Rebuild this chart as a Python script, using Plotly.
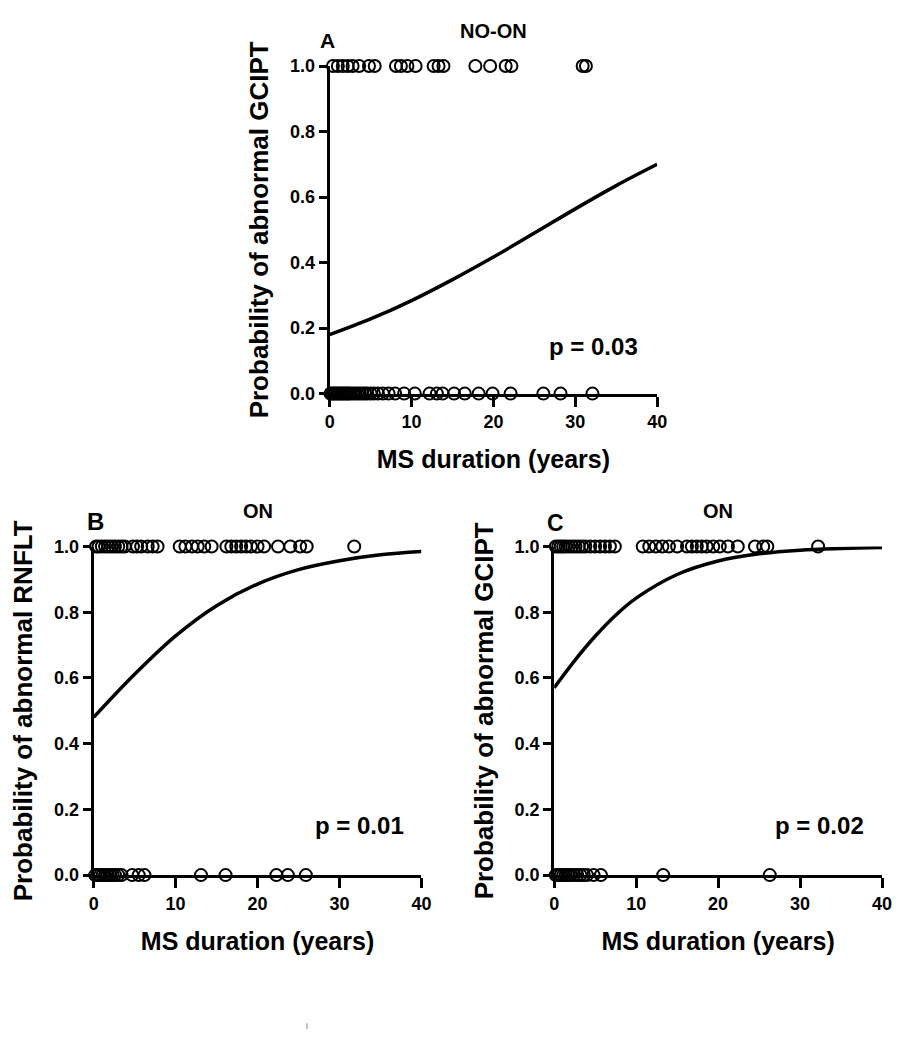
import plotly.graph_objects as go

# ---- data ----
a_abn = [0.4, 1.0, 1.6, 2.2, 2.8, 3.6, 4.8, 5.5, 8.1, 8.7, 9.5, 10.5, 12.7, 13.3, 13.9,
         17.8, 19.6, 21.5, 22.2, 30.9, 31.3]
a_norm = [0.1, 0.3, 0.5, 0.7, 0.9, 1.1, 1.3, 1.5, 1.7, 1.9, 2.1, 2.3, 2.5, 2.8, 3.1, 3.4,
          3.7, 4.0, 4.3, 4.6, 5.0, 5.4, 5.9, 6.5, 7.2, 8.0, 9.1, 10.4, 12.2, 13.1, 13.8,
          15.2, 16.5, 18.2, 19.9, 22.1, 26.1, 28.2, 32.1]
b_abn = [0.3, 0.6, 1.0, 1.4, 1.8, 2.2, 2.6, 3.0, 3.4, 3.8, 4.8, 5.3, 5.8, 6.6, 7.2, 7.8,
         10.5, 11.2, 12.0, 12.7, 13.5, 14.4, 16.2, 16.8, 17.4, 18.0, 18.6, 19.2, 20.0,
         20.8, 22.5, 24.0, 25.2, 26.0, 31.8]
b_norm = [0.2, 0.5, 0.8, 1.1, 1.4, 1.7, 2.0, 2.3, 2.6, 3.0, 3.4, 4.7, 5.5, 6.2,
          13.1, 16.1, 22.3, 23.7, 25.9]
c_abn = [0.2, 0.5, 0.8, 1.1, 1.4, 1.8, 2.2, 2.6, 3.0, 3.4, 3.8, 4.4, 5.0, 5.6, 6.2, 6.8,
         7.4, 10.8, 11.6, 12.4, 13.2, 14.0, 15.0, 16.2, 16.8, 17.4, 18.0, 18.6, 19.4,
         20.2, 21.2, 22.4, 24.5, 25.5, 26.0, 32.2]
c_norm = [0.2, 0.5, 0.8, 1.1, 1.4, 1.7, 2.0, 2.4, 2.8, 3.2, 3.6, 4.0, 4.8, 5.7, 13.3, 26.3]

curve_x = [0, 5, 10, 15, 20, 25, 30, 35, 40]
a_curve = [0.18, 0.228, 0.284, 0.348, 0.417, 0.490, 0.564, 0.635, 0.700]
b_curve = [0.48, 0.611, 0.728, 0.820, 0.886, 0.930, 0.957, 0.975, 0.985]
c_curve_x = [0, 2.5, 5, 7.5, 10, 15, 20, 25, 30, 35, 40]
c_curve = [0.57, 0.653, 0.727, 0.791, 0.843, 0.915, 0.956, 0.978, 0.989, 0.994, 0.997]

x_ticks = [0, 10, 20, 30, 40]
y_ticks = [0.0, 0.2, 0.4, 0.6, 0.8, 1.0]
y_tick_text = ["0.0", "0.2", "0.4", "0.6", "0.8", "1.0"]

OFF = 8
W, H = 921 - 2 * OFF, 1050 - 2 * OFF
FONT = "Liberation Sans, Arial, sans-serif"

fig = go.Figure()

panels = [
    ("x", "y", a_abn, a_norm, curve_x, a_curve),
    ("x2", "y2", b_abn, b_norm, curve_x, b_curve),
    ("x3", "y3", c_abn, c_norm, c_curve_x, c_curve),
]
marker = dict(symbol="circle-open", size=12, color="black", line=dict(width=2, color="black"))
for xa, ya, abn, norm, cx, cy in panels:
    fig.add_trace(go.Scatter(x=abn, y=[1] * len(abn), mode="markers", marker=marker,
                             xaxis=xa, yaxis=ya, cliponaxis=False, showlegend=False))
    fig.add_trace(go.Scatter(x=norm, y=[0] * len(norm), mode="markers", marker=marker,
                             xaxis=xa, yaxis=ya, cliponaxis=False, showlegend=False))
    fig.add_trace(go.Scatter(x=cx, y=cy, mode="lines", line=dict(color="black", width=3.5, shape="spline"),
                             xaxis=xa, yaxis=ya, showlegend=False))

def px_dom_x(a, b):
    return [(a - OFF) / W, (b - OFF) / W]

def px_dom_y(top, bottom):
    return [1 - (bottom - OFF) / H, 1 - (top - OFF) / H]

tickfont = dict(family=FONT, size=18, color="black", weight="bold")
xtitlefont = dict(family=FONT, size=25, color="black", weight="bold")
ytitlefont = dict(family=FONT, size=26, color="black", weight="bold")

def xaxis(dom, anchor):
    return dict(domain=dom, anchor=anchor, range=[0, 40], tickvals=x_ticks,
                showgrid=False, zeroline=False, showline=True, linecolor="black", linewidth=3,
                ticks="outside", ticklen=10, tickwidth=3, tickcolor="black", tickfont=tickfont,
                title=dict(text="MS duration (years)", font=xtitlefont, standoff=20))

def yaxis(dom, anchor, title):
    return dict(domain=dom, anchor=anchor, range=[0, 1], tickvals=y_ticks, ticktext=y_tick_text,
                showgrid=False, zeroline=False, showline=True, linecolor="black", linewidth=3,
                ticks="outside", ticklen=8, tickwidth=3, tickcolor="black", tickfont=tickfont,
                title=dict(text=title, font=ytitlefont, standoff=14))

fig.update_layout(
    width=W, height=H,
    margin=dict(l=0, r=0, t=0, b=0),
    paper_bgcolor="white", plot_bgcolor="white",
    xaxis=xaxis(px_dom_x(330, 663), "y"),
    yaxis=yaxis(px_dom_y(57, 391), "x", "Probability of abnormal GCIPT"),
    xaxis2=xaxis(px_dom_x(90, 423.3), "y2"),
    yaxis2=yaxis(px_dom_y(547, 882), "x2", "Probability of abnormal RNFLT"),
    xaxis3=xaxis(px_dom_x(558.3, 891.7), "y3"),
    yaxis3=yaxis(px_dom_y(547, 882), "x3", "Probability of abnormal GCIPT"),
)

def ann(text, x, y, size, anchor="center"):
    fig.add_annotation(text=text, x=(x - OFF) / W, y=1 - (y - OFF) / H, xref="paper", yref="paper",
                       showarrow=False, xanchor=anchor, yanchor="middle",
                       font=dict(family=FONT, size=size, color="black", weight="bold"))

ann("A", 328, 31, 21)
ann("NO-ON", 497, 21, 20)
ann("B", 92, 521, 24)
ann("ON", 257, 511, 20)
ann("C", 560, 523, 23)
ann("ON", 725, 511, 20)
ann("p = 0.03", 598, 343, 24)
ann("p = 0.01", 360, 831, 24)
ann("p = 0.02", 828, 831, 24)

# tiny speck below the panels in the reference
fig.add_shape(type="line", xref="paper", yref="paper",
              x0=(307 - OFF) / W, x1=(307 - OFF) / W,
              y0=1 - (1033 - OFF) / H, y1=1 - (1039 - OFF) / H,
              line=dict(color="#888888", width=1))

fig.write_html("out.html")
